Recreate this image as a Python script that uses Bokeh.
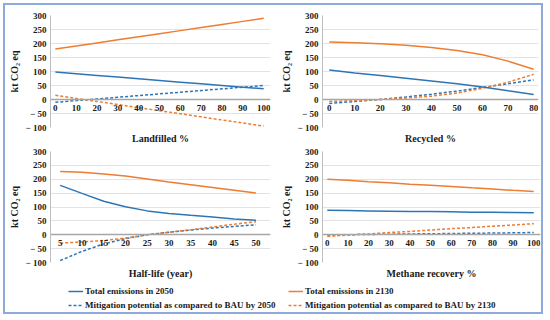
from bokeh.plotting import figure
from bokeh.layouts import column, row
from bokeh.models import LinearAxis, FixedTicker, Legend, LegendItem, Range1d
from bokeh.embed import file_html
from bokeh.resources import INLINE

# ---- data ----
lf_x = [0, 10, 20, 30, 40, 50, 60, 70, 80, 90, 100]
lf_tot2050 = [98, 92, 86, 80, 74, 68, 62, 56, 50, 44, 38]
lf_tot2130 = [180, 191, 202, 213, 224, 235, 246, 257, 268, 279, 290]
lf_mit2050 = [-10, -4, 2, 8, 14, 20, 26, 32, 38, 44, 50]
lf_mit2130 = [15, 4, -7, -18, -29, -40, -51, -62, -73, -84, -95]

rc_x = [0, 10, 20, 30, 40, 50, 60, 70, 80]
rc_tot2050 = [105, 95, 86, 76, 66, 56, 45, 31, 18]
rc_tot2130 = [205, 203, 199, 194, 186, 175, 160, 137, 108]
rc_mit2050 = [-14, -7, 0, 9, 19, 30, 43, 56, 70]
rc_mit2130 = [-7, -4, 0, 5, 12, 23, 40, 62, 90]

hl_x = [5, 10, 15, 20, 25, 30, 35, 40, 45, 50]
hl_tot2050 = [178, 149, 121, 101, 86, 77, 70, 64, 57, 52]
hl_tot2130 = [228, 225, 219, 212, 201, 190, 180, 170, 160, 150]
hl_mit2050 = [-93, -60, -33, -14, 0, 9, 17, 24, 30, 36]
hl_mit2130 = [-30, -26, -21, -12, 0, 9, 18, 28, 38, 47]

mr_x = [0, 10, 20, 30, 40, 50, 60, 70, 80, 90, 100]
mr_tot2050 = [88, 87, 86, 85, 84, 83.5, 82.5, 81.5, 81, 80, 79]
mr_tot2130 = [200, 196, 191, 187, 182, 178, 174, 169, 165, 160, 156]
mr_mit2050 = [-1, 0, 1, 2, 3, 3.5, 4.5, 5.5, 6, 7, 8]
mr_mit2130 = [-6, -1, 3, 8, 12, 17, 22, 26, 31, 35, 40]

y_ticks = [-100, -50, 0, 50, 100, 150, 200, 250, 300]
series_labels = ["Total emissions in 2050", "Total emissions in 2130",
                 "Mitigation potential as compared to BAU by 2050",
                 "Mitigation potential as compared to BAU by 2130"]

BLUE = "#2E75B6"
ORANGE = "#ED7D31"
FONT = "'Liberation Serif', 'DejaVu Serif', serif"
DASH = "3 2"
TXT = "#1a1a1a"


def panel(x, t50, t130, m50, m130, xlabel, xticks, xr, w, h, bl, br, bt, bb):
    p = figure(width=w, height=h, output_backend="svg", toolbar_location=None,
               x_range=Range1d(*xr), y_range=Range1d(-100, 300),
               x_axis_location=None, min_border_left=bl, min_border_right=br,
               min_border_top=bt, min_border_bottom=bb)
    p.outline_line_color = None
    p.xgrid.grid_line_color = None
    p.ygrid.grid_line_color = "#E3E3E3"
    p.ygrid.ticker = FixedTicker(ticks=y_ticks)

    ya = p.yaxis[0]
    ya.ticker = FixedTicker(ticks=y_ticks)
    ya.major_label_overrides = {-50: "\u2212 50", -100: "\u2212 100"}
    ya.axis_line_color = "#BFBFBF"
    ya.major_tick_out = 0
    ya.major_tick_in = 0
    ya.minor_tick_line_color = None
    ya.major_label_standoff = 4
    ya.major_label_text_font = FONT
    ya.major_label_text_font_style = "bold"
    ya.major_label_text_font_size = "9px"
    ya.major_label_text_color = TXT
    ya.axis_label = "kt CO\u2082 eq"
    ya.axis_label_standoff = 3
    ya.axis_label_text_font = FONT
    ya.axis_label_text_font_style = "bold"
    ya.axis_label_text_font_size = "10px"
    ya.axis_label_text_color = TXT

    xa = LinearAxis(fixed_location=0, ticker=FixedTicker(ticks=xticks),
                    axis_line_color="#A6A6A6", axis_line_width=1.5,
                    major_tick_out=0, major_tick_in=0, minor_tick_line_color=None,
                    major_label_standoff=5, major_label_text_font=FONT,
                    major_label_text_font_style="bold",
                    major_label_text_font_size="9px",
                    major_label_text_color=TXT)
    p.add_layout(xa, "below")
    la = LinearAxis(ticker=FixedTicker(ticks=[]), axis_line_color=None,
                    major_tick_out=0, major_tick_in=0, minor_tick_line_color=None,
                    major_label_standoff=0, major_label_text_font_size="0px",
                    axis_label=xlabel, axis_label_standoff=5,
                    axis_label_text_font=FONT, axis_label_text_font_style="bold",
                    axis_label_text_font_size="10px",
                    axis_label_text_color=TXT)
    p.add_layout(la, "below")

    p.line(x, m50, line_color=BLUE, line_width=1.5, line_dash=DASH)
    p.line(x, m130, line_color=ORANGE, line_width=1.5, line_dash=DASH)
    p.line(x, t50, line_color=BLUE, line_width=1.5)
    p.line(x, t130, line_color=ORANGE, line_width=1.5)
    return p


p1 = panel(lf_x, lf_tot2050, lf_tot2130, lf_mit2050, lf_mit2130, "Landfilled %",
           lf_x, (-2.33, 103.26), 272, 141, 38, 7, 10, 17)
p2 = panel(rc_x, rc_tot2050, rc_tot2130, rc_mit2050, rc_mit2130, "Recycled %",
           rc_x, (-2.64, 81.89), 264, 141, 37, 3, 10, 17)
p3 = panel(hl_x, hl_tot2050, hl_tot2130, hl_mit2050, hl_mit2130, "Half-life (year)",
           hl_x, (2.77, 53.34), 272, 137, 38, 7, 5, 21)
p4 = panel(mr_x, mr_tot2050, mr_tot2130, mr_mit2050, mr_mit2130, "Methane recovery %",
           mr_x, (-2.34, 103.27), 264, 137, 37, 1, 5, 21)

# ---- legend (series drawn out of view; only the legend is visible) ----
lg = figure(width=536, height=29, output_backend="svg", toolbar_location=None,
            x_range=Range1d(0, 1), y_range=Range1d(1000, 1001),
            x_axis_location=None, y_axis_location=None, min_border=0)
lg.outline_line_color = None
lg.xgrid.grid_line_color = None
lg.ygrid.grid_line_color = None
r_t50 = lg.line(hl_x, hl_tot2050, line_color=BLUE, line_width=1.5)
r_m50 = lg.line(hl_x, hl_mit2050, line_color=BLUE, line_width=1.5, line_dash=DASH)
r_t130 = lg.line(hl_x, hl_tot2130, line_color=ORANGE, line_width=1.5)
r_m130 = lg.line(hl_x, hl_mit2130, line_color=ORANGE, line_width=1.5, line_dash=DASH)


def mk_legend(items, loc):
    return Legend(items=items, location=loc, glyph_width=15, glyph_height=10,
                  label_standoff=2, spacing=4, padding=0, margin=0,
                  border_line_color=None, background_fill_alpha=0,
                  label_text_font=FONT, label_text_font_style="bold",
                  label_text_font_size="9px", label_text_color=TXT,
                  label_height=10)


leg1 = mk_legend([LegendItem(label=series_labels[0], renderers=[r_t50]),
                  LegendItem(label=series_labels[2], renderers=[r_m50])], (63, 2))
leg2 = mk_legend([LegendItem(label=series_labels[1], renderers=[r_t130]),
                  LegendItem(label=series_labels[3], renderers=[r_m130])], (283, 2))
lg.add_layout(leg1)
lg.add_layout(leg2)

layout = column(row(p1, p2), row(p3, p4), lg,
                styles={"border": "2px solid #8EAADB", "margin": "3px"})

open("out.html", "w").write(file_html(layout, INLINE))
